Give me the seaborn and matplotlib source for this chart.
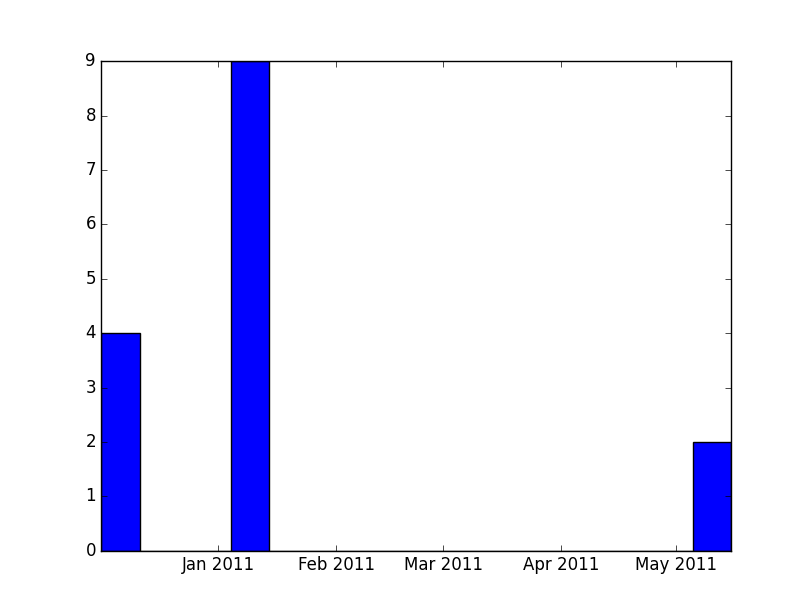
import datetime as dt
import matplotlib
matplotlib.use('Agg')
import matplotlib.pyplot as plt
import matplotlib.dates as mdates
import seaborn as sns

# bar start dates (each bar spans 10 days) and counts
bar_starts = [dt.datetime(2010, 12, 1, 10), dt.datetime(2011, 1, 4, 10), dt.datetime(2011, 5, 5, 10)]
counts = [4, 9, 2]
bar_days = 10


def plot_counts():
    plt.style.use('classic')
    plt.rcParams['figure.facecolor'] = 'white'
    plt.rcParams['font.family'] = ['DejaVu Sans']

    fig, ax = plt.subplots(figsize=(8.12, 6.12), dpi=100)
    fig.subplots_adjust(left=0.125, right=0.9, bottom=0.1, top=0.9)

    # bin edges: each bar plus the empty gaps between them
    edges = []
    for s in bar_starts:
        edges.append(mdates.date2num(s))
        edges.append(mdates.date2num(s + dt.timedelta(days=bar_days)))
    mids = [mdates.date2num(s + dt.timedelta(days=bar_days / 2)) for s in bar_starts]

    sns.histplot(x=mids, weights=counts, bins=edges, ax=ax, stat='count',
                 color='#0000ff', alpha=1, edgecolor='black', linewidth=1)

    ax.set_xlim(edges[0], edges[-1])
    ax.set_ylim(0, 9)
    ax.set_yticks(range(0, 10))
    ax.xaxis.set_major_locator(mdates.MonthLocator())
    ax.xaxis.set_major_formatter(mdates.DateFormatter('%b %Y'))
    ax.set_xlabel('')
    ax.set_ylabel('')
    ax.grid(False)

    fig.savefig('out.png', dpi=100, facecolor='white')


if __name__ == '__main__':
    plot_counts()
